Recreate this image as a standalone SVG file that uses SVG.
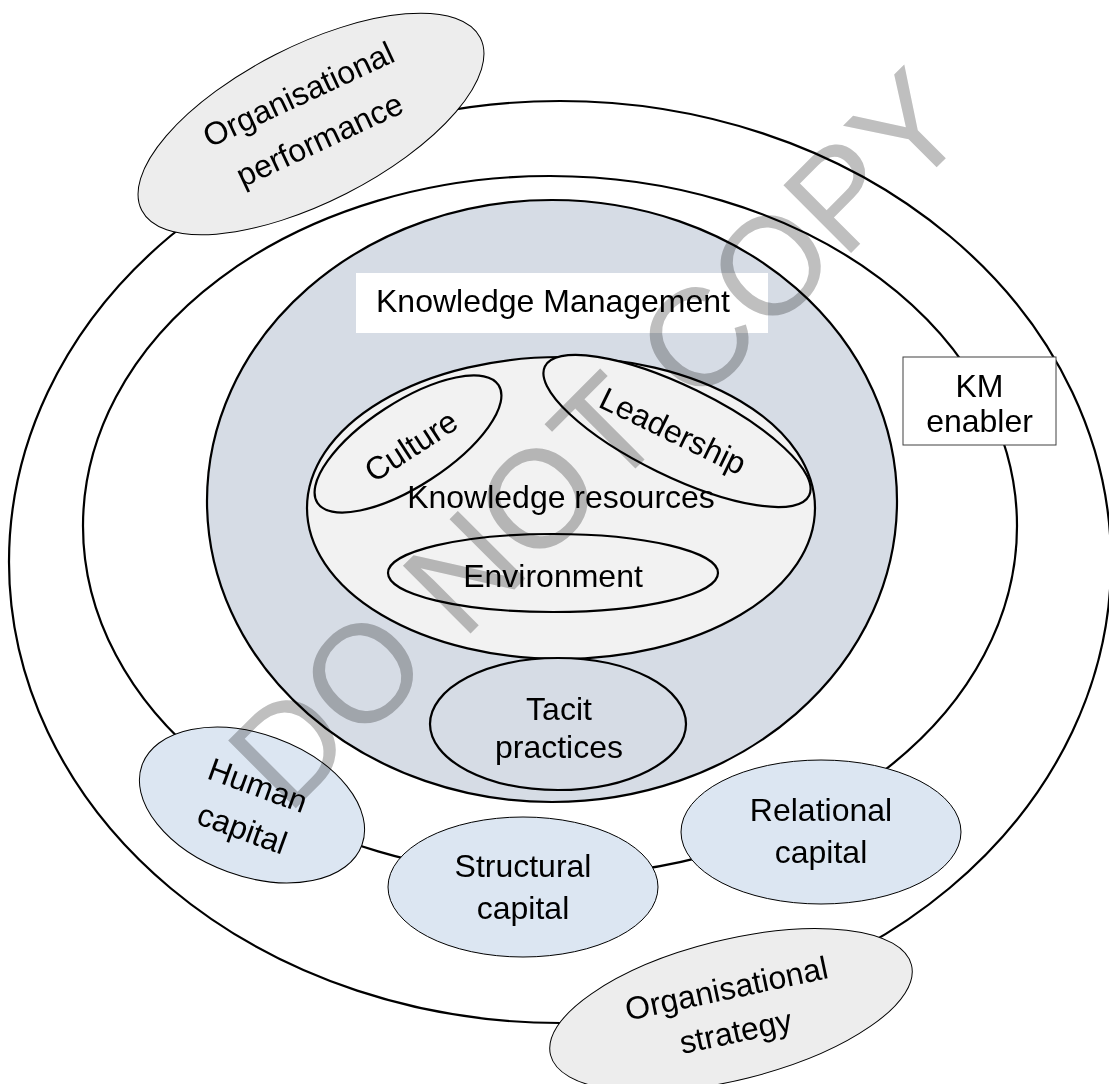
<svg xmlns="http://www.w3.org/2000/svg" width="1109" height="1084" viewBox="0 0 1109 1084">
<style>
  text { font-family: "Liberation Sans", Arial, sans-serif; font-size: 32px; fill: #000; text-anchor: middle; }
  .ring { fill: #fff; stroke: #000; stroke-width: 2.2; }
  .km { fill: #d6dce5; stroke: #000; stroke-width: 2.2; }
  .kr { fill: #f2f2f2; stroke: #000; stroke-width: 2.2; }
  .tacit { fill: #d6dce5; stroke: #000; stroke-width: 2.2; }
  .cap { fill: #dce6f2; stroke: #000; stroke-width: 1; }
  .org { fill: #ededed; stroke: #000; stroke-width: 1; }
  .wm { font-size: 139px; fill: #bfbfbf; mix-blend-mode: multiply; }
</style>
<rect width="1109" height="1084" fill="#fff"/>
<g id="outer-ring"><ellipse class="ring" cx="560" cy="562" rx="551" ry="461"/></g>
<g id="km-enabler-ring"><ellipse class="ring" cx="550" cy="526" rx="467" ry="350"/></g>
<g id="knowledge-management">
  <ellipse class="km" cx="552" cy="501" rx="345" ry="301"/>
  <rect x="356" y="273" width="412" height="60" fill="#fff"/>
  <text x="553" y="312">Knowledge Management</text>
</g>
<g id="knowledge-resources">
  <ellipse class="kr" cx="561" cy="508" rx="254" ry="151"/>
</g>
<g id="culture">
  <ellipse class="kr" cx="408" cy="444" rx="108" ry="42" transform="rotate(-33 408 444)"/>
  <text transform="translate(411 446) rotate(-33)" x="0" y="11">Culture</text>
</g>
<g id="leadership">
  <ellipse class="kr" cx="677" cy="431" rx="147" ry="45" transform="rotate(26 677 431)"/>
  <text transform="translate(673 431) rotate(26)" x="0" y="11">Leadership</text>
</g>
<g id="knowledge-resources-label"><text x="561" y="508">Knowledge resources</text></g>
<g id="environment">
  <ellipse class="kr" cx="553" cy="573" rx="165" ry="39"/>
  <text x="553" y="587">Environment</text>
</g>
<g id="tacit-practices">
  <ellipse class="tacit" cx="558" cy="724" rx="128" ry="66"/>
  <text x="559" y="720">Tacit</text>
  <text x="559" y="758">practices</text>
</g>
<g id="human-capital">
  <ellipse class="cap" cx="252" cy="805" rx="117" ry="71" transform="rotate(20 252 805)"/>
  <g transform="translate(250 807) rotate(20)">
    <text x="0" y="-12">Human</text>
    <text x="0" y="34">capital</text>
  </g>
</g>
<g id="structural-capital">
  <ellipse class="cap" cx="523" cy="887" rx="135" ry="70"/>
  <text x="523" y="877">Structural</text>
  <text x="523" y="919">capital</text>
</g>
<g id="relational-capital">
  <ellipse class="cap" cx="821" cy="832" rx="140" ry="72"/>
  <text x="821" y="821">Relational</text>
  <text x="821" y="863">capital</text>
</g>
<g id="organisational-performance">
  <ellipse class="org" cx="311" cy="124" rx="190" ry="78" transform="rotate(-27 311 124)"/>
  <g transform="translate(309 117) rotate(-25)">
    <text x="0" y="-14">Organisational</text>
    <text x="0" y="36">performance</text>
  </g>
</g>
<g id="organisational-strategy">
  <ellipse class="org" cx="731" cy="1010" rx="186" ry="70" transform="rotate(-14 731 1010)"/>
  <g transform="translate(731 1010) rotate(-12)">
    <text x="0" y="-11">Organisational</text>
    <text x="0" y="33">strategy</text>
  </g>
</g>
<g id="km-enabler">
  <rect x="903" y="357" width="153" height="88" fill="#fff" stroke="#404040" stroke-width="1"/>
  <text x="979.5" y="397">KM</text>
  <text x="979.5" y="432">enabler</text>
</g>
<g id="connectors"></g>
<g id="watermark">
  <text class="wm" x="631" y="473" transform="rotate(-45 631 473)">DO NOT COPY</text>
</g>
</svg>
